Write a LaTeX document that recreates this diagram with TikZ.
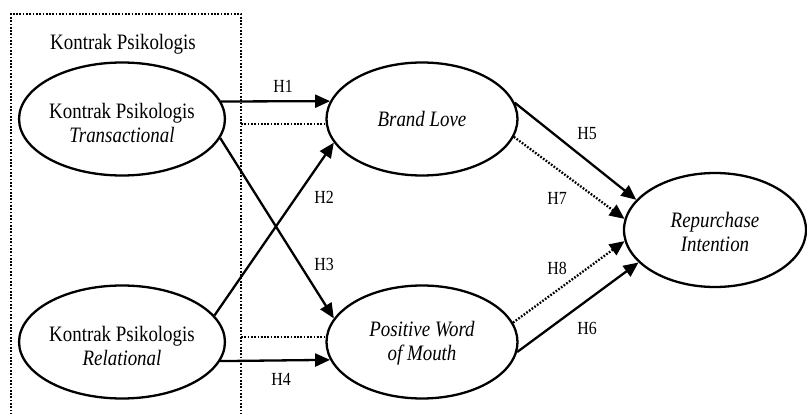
\documentclass[tikz,border=0pt]{standalone}
\usepackage{fontspec}
\setmainfont{Liberation Serif}[FakeStretch=0.86]
\usetikzlibrary{shapes.geometric,arrows.meta}
\newcommand{\tstrut}[1]{\rule{0pt}{#1pt}}
\begin{document}
\begin{tikzpicture}[x=1pt,y=-1pt,
  var/.style={ellipse,draw,line width=2.3pt,minimum width=191pt,minimum height=113pt,inner sep=0pt,align=center,font=\fontsize{22}{24}\selectfont},
  lab/.style={font=\fontsize{18.5}{20}\selectfont},
  conn/.style={line width=2.3pt,-{Triangle[length=15pt,width=13pt]}},
  dconn/.style={conn,dash pattern=on 1.7pt off 1.6pt},
  dline/.style={line width=2.3pt,dash pattern=on 1.7pt off 1.6pt}]
\useasboundingbox (0,0) rectangle (807,414);
% group box
\coordinate (bl) at (11,418);
\coordinate (tl) at (11,14);
\coordinate (tr) at (241,14);
\coordinate (br) at (241,418);
\draw[dline] (bl) -- (tl) -- (tr) -- (br);
\node[font=\fontsize{22}{24}\selectfont] (g) at (123,44) {Kontrak Psikologis};
% variables
\node[var] (t) at (122,119) {\tstrut{23}Kontrak Psikologis\\\textit{Transactional}};
\node[var] (r) at (122,342) {\tstrut{24}Kontrak Psikologis\\\textit{Relational}};
\node[var] (b) at (422,119) {\textit{Brand Love}};
\node[var] (p) at (422,342) {\tstrut{17}\textit{Positive Word}\\\textit{of Mouth}};
\node[var,minimum width=182pt,minimum height=114pt] (ri) at (715,230) {\tstrut{19}\textit{Repurchase}\\\textit{Intention}};
% connectors
\draw[conn] (t.10.6) -- (b.169.4);
\draw[dline] (tr |- b.183.7) -- (b.183.7);
\draw[conn] (r.16.8) -- (b.195.7);
\draw[conn] (t.-11.5) -- (p.165.7);
\draw[dline] (tr |- p.177) -- (p.177);
\draw[conn] (r.-11.3) -- (p.191.3);
\draw[conn] (b.10) -- (ri.159);
\draw[dconn] (b.-11) -- (ri.173.7);
\draw[dconn] (p.12) -- (ri.187.4);
\draw[conn] (p.-6.5) -- (ri.203);
% labels
\node[lab] (h1) at (283,86) {H1};
\node[lab] (h2) at (324,197) {H2};
\node[lab] (h3) at (324,264) {H3};
\node[lab] (h4) at (281,379) {H4};
\node[lab] (h5) at (587,134) {H5};
\node[lab] (h7) at (557,198) {H7};
\node[lab] (h8) at (557,268) {H8};
\node[lab] (h6) at (587,328) {H6};
\end{tikzpicture}
\end{document}
